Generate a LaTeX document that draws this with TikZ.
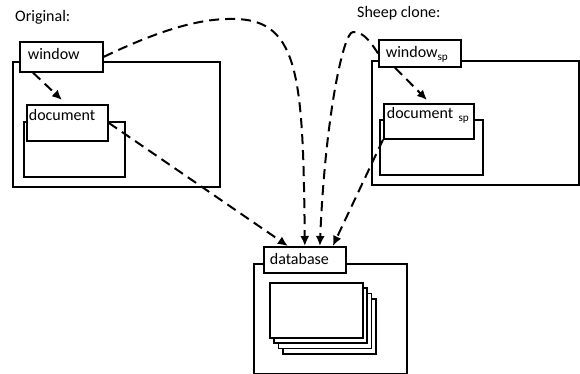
\documentclass[tikz,border=0pt]{standalone}
\usepackage{fontspec}
\setmainfont{Carlito}
\usetikzlibrary{arrows.meta}

\tikzset{
  frame/.style={draw, line width=1.7pt, anchor=north west, inner sep=0pt},
  tab/.style={frame, fill=white, align=left, inner ysep=0pt},
  link/.style={-{Latex[length=10pt,width=9pt]}, line width=2pt, dash pattern=on 10pt off 6pt},
}

\begin{document}
\begin{tikzpicture}[x=1pt, y=-1pt, font=\fontsize{16}{18}\selectfont]
	\fill[white] (0,0) rectangle (580,374);
	\useasboundingbox (0,0) rectangle (580,374);

	%%%%% original side %%%%%
	\node[anchor=base west, inner sep=0pt] (origtitle) at (15,22) {Original:};
	\node[frame, minimum width=207, minimum height=125] (origframe) at (12,61) {};
	\node[frame, minimum width=101, minimum height=55] (docback) at (23,121) {};
	\node[tab, inner xsep=2pt, text width=77pt, text height=16pt, text depth=20pt] (doc) at (26,104) {document};
	\node[tab, inner xsep=8pt, text width=67pt, text height=18pt, text depth=12pt] (win) at (19,41) {window};

	%%%%% clone side %%%%%
	\node[anchor=base west, inner sep=0pt] (clonetitle) at (357,17.5) {Sheep clone:};
	\node[frame, minimum width=207, minimum height=124] (cloneframe) at (371,60) {};
	\node[frame, minimum width=103, minimum height=55] (docspback) at (379,119) {};
	\node[tab, inner xsep=3pt, text width=84pt, text height=15pt, text depth=20pt] (docsp) at (383,103) {document~\textsubscript{sp}};
	\node[tab, inner xsep=7pt, text width=68pt, text height=18pt, text depth=9pt] (winsp) at (378,39) {window\textsubscript{sp}};

	%%%%% database %%%%%
	\node[frame, minimum width=153, minimum height=110] (dbframe) at (253,263) {};
	\foreach \i in {3,2,1,0}
		\node[frame, fill=white, minimum width=93, minimum height=55] (page\i) at (269+4.3*\i, 282+5.3*\i) {};
	\node[tab, inner xsep=6pt, text width=70pt, text height=18pt, text depth=8pt] (db) at (263,246) {database};

	%%%%% links %%%%%
	\draw[link] ([xshift=14pt]win.south west) -- ([xshift=36pt,yshift=4pt]doc.north west);
	\draw[link] ([xshift=17pt]winsp.south west) -- ([xshift=44pt,yshift=3pt]docsp.north west);
	\draw[link] (doc.east) -- ([xshift=-17pt]db.north);
	\draw[link] (win.east) .. controls (160,30) and (200,18) .. (235,19)
		.. controls (300,20) and (303,80) .. (db.north);
	\draw[link] (winsp.west) .. controls (368,38) and (362,32) .. (353,32)
		.. controls (343,32) and (325,120) .. ([xshift=15pt]db.north);
	\draw[link] (docsp.south west) -- ([xshift=28pt]db.north);
\end{tikzpicture}
\end{document}
